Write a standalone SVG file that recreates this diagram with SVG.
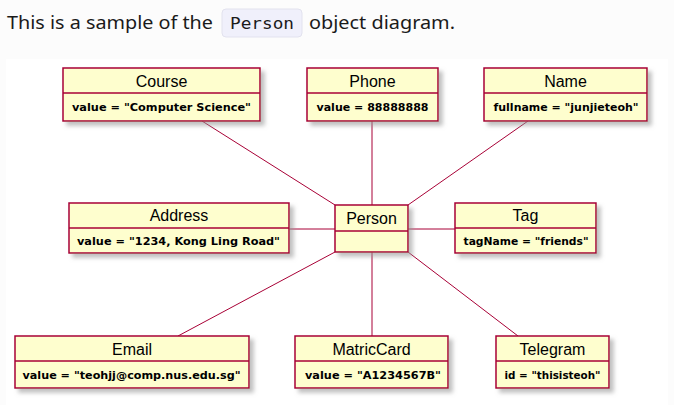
<svg xmlns="http://www.w3.org/2000/svg" width="674" height="405" viewBox="0 0 674 405">
<style>
.box{fill:#FEFECE;stroke:#A80036;stroke-width:1.5;filter:url(#sh)}
.div{stroke:#A80036;stroke-width:1.5}
.name{font-family:"Liberation Sans",Arial,sans-serif;font-size:16px;fill:#000;text-anchor:middle}
.attr{font-family:"DejaVu Sans",Verdana,sans-serif;font-size:11px;fill:#000;font-weight:bold;text-anchor:middle}
.conn line{stroke:#A80036;stroke-width:1}
.prose{font-family:"Noto Sans","Open Sans",sans-serif;font-size:18px;fill:#1a1a1a}
</style>
<defs>
<filter id="sh" x="-10%" y="-10%" width="130%" height="140%">
<feGaussianBlur in="SourceAlpha" stdDeviation="2"/>
<feOffset dx="4" dy="4" result="b"/>
<feColorMatrix in="b" type="matrix" values="0 0 0 0 0.3  0 0 0 0 0.3  0 0 0 0 0.3  0 0 0 0.6 0" result="c"/>
<feMerge><feMergeNode in="c"/><feMergeNode in="SourceGraphic"/></feMerge>
</filter>
</defs>
<rect x="0" y="0" width="674" height="405" fill="#fcfcfc"/>
<rect x="6" y="59" width="662" height="346" fill="#ffffff"/>
<g id="caption">
<text class="prose" x="7" y="29" textLength="206" lengthAdjust="spacingAndGlyphs">This is a sample of the</text>
<rect x="222" y="9" width="80" height="28" rx="4" fill="#f0f0fb" stroke="#e2e2ee"/>
<text x="262" y="29" font-family="'DejaVu Sans Mono','Liberation Mono',monospace" font-size="15" fill="#1a1a1a" text-anchor="middle" textLength="64" lengthAdjust="spacingAndGlyphs">Person</text>
<text class="prose" x="309" y="29" textLength="146" lengthAdjust="spacingAndGlyphs">object diagram.</text>
</g>
<g id="connectors" class="conn">
<line x1="202" y1="121" x2="335" y2="205"/>
<line x1="372" y1="121" x2="372" y2="205"/>
<line x1="528" y1="121" x2="408" y2="205"/>
<line x1="289" y1="229" x2="335" y2="229"/>
<line x1="408" y1="229" x2="455" y2="229"/>
<line x1="335" y1="252" x2="178" y2="336"/>
<line x1="372" y1="252" x2="372" y2="336"/>
<line x1="408" y1="252" x2="518" y2="336"/>
</g>
<g id="course">
<rect class="box" x="63" y="68" width="197" height="53"/>
<line class="div" x1="63" y1="93" x2="260" y2="93"/>
<text class="name" x="161.5" y="87">Course</text>
<text class="attr" x="161.5" y="111" textLength="179" lengthAdjust="spacingAndGlyphs">value = "Computer Science"</text>
</g>
<g id="phone">
<rect class="box" x="307" y="68" width="131" height="53"/>
<line class="div" x1="307" y1="93" x2="438" y2="93"/>
<text class="name" x="372.5" y="87">Phone</text>
<text class="attr" x="372.5" y="111" textLength="112" lengthAdjust="spacingAndGlyphs">value = 88888888</text>
</g>
<g id="name">
<rect class="box" x="484" y="68" width="163" height="53"/>
<line class="div" x1="484" y1="93" x2="647" y2="93"/>
<text class="name" x="565.5" y="87">Name</text>
<text class="attr" x="566" y="111" textLength="145" lengthAdjust="spacingAndGlyphs">fullname = "junjieteoh"</text>
</g>
<g id="address">
<rect class="box" x="69" y="203" width="220" height="50"/>
<line class="div" x1="69" y1="228" x2="289" y2="228"/>
<text class="name" x="179" y="221">Address</text>
<text class="attr" x="178.5" y="245" textLength="203" lengthAdjust="spacingAndGlyphs">value = "1234, Kong Ling Road"</text>
</g>
<g id="person">
<rect class="box" x="335" y="205" width="73" height="47"/>
<line class="div" x1="335" y1="231" x2="408" y2="231"/>
<text class="name" x="371.5" y="224">Person</text>
</g>
<g id="tag">
<rect class="box" x="455" y="203" width="141" height="50"/>
<line class="div" x1="455" y1="228" x2="596" y2="228"/>
<text class="name" x="525.5" y="221">Tag</text>
<text class="attr" x="526" y="245" textLength="125" lengthAdjust="spacingAndGlyphs">tagName = "friends"</text>
</g>
<g id="email">
<rect class="box" x="15" y="336" width="234" height="52"/>
<line class="div" x1="15" y1="361" x2="249" y2="361"/>
<text class="name" x="132" y="355">Email</text>
<text class="attr" x="131.5" y="379" textLength="218" lengthAdjust="spacingAndGlyphs">value = "teohjj@comp.nus.edu.sg"</text>
</g>
<g id="matriccard">
<rect class="box" x="295" y="336" width="153" height="52"/>
<line class="div" x1="295" y1="361" x2="448" y2="361"/>
<text class="name" x="371.5" y="355">MatricCard</text>
<text class="attr" x="373" y="379" textLength="136" lengthAdjust="spacingAndGlyphs">value = "A1234567B"</text>
</g>
<g id="telegram">
<rect class="box" x="496" y="336" width="113" height="52"/>
<line class="div" x1="496" y1="361" x2="609" y2="361"/>
<text class="name" x="552.5" y="355">Telegram</text>
<text class="attr" x="552.5" y="379" textLength="96" lengthAdjust="spacingAndGlyphs">id = "thisisteoh"</text>
</g>
</svg>
